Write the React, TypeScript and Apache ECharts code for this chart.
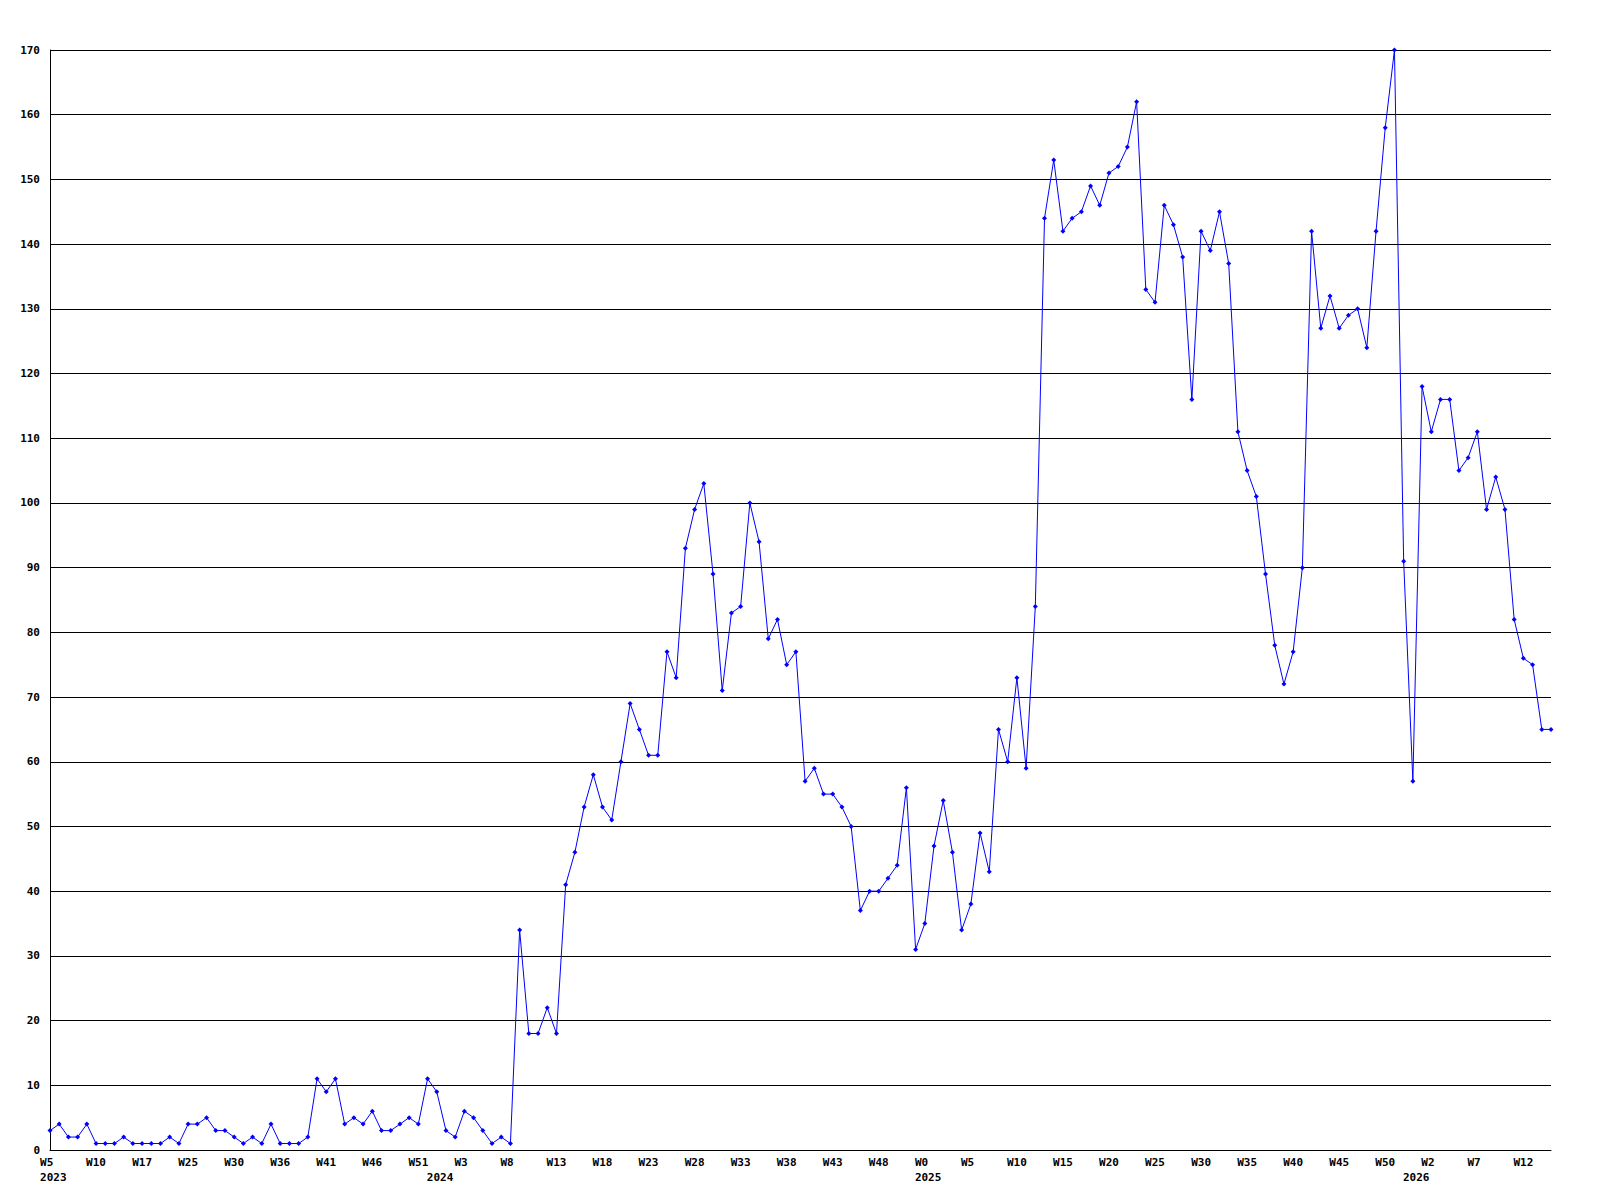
import React, { useEffect, useRef } from "react";
import * as echarts from "echarts";

// ISO-like week numbers present in the data, per year
const weeks2023 = [5, 6, 7, 8, 9, 10, 11, 13, 14, 16, 17, 19, 20, 22, 23, 25, 26, 27, 28, 29, 30, 31, 32, 34, 35, 36, 37, 38, 39, 40, 41, 42, 43, 44, 45, 46, 47, 48, 49, 50, 51, 52];
const weeks2024 = [0, 1, 2, 3, 4, 5, 6, 7, 8, 9, 10, 11, 12, 13, 14, 15, 16, 17, 18, 19, 20, 21, 22, 23, 24, 25, 26, 27, 28, 29, 30, 31, 32, 33, 34, 35, 36, 37, 38, 39, 40, 41, 42, 43, 44, 45, 46, 47, 48, 49, 50, 51, 52];
const weeks2025 = [0, 1, 2, 3, 4, 5, 6, 7, 8, 9, 10, 11, 12, 13, 14, 15, 16, 17, 18, 19, 20, 21, 22, 23, 24, 25, 26, 27, 28, 29, 30, 31, 32, 33, 34, 35, 36, 37, 38, 39, 40, 41, 42, 43, 44, 45, 46, 47, 48, 49, 50, 51, 52];
const weeks2026 = [0, 1, 2, 3, 4, 5, 6, 7, 8, 9, 10, 11, 12, 13, 14, 15];

const values = [
  3, 4, 2, 2, 4, 1, 1, 1, 2, 1, 1, 1, 1, 2, 1, 4, 4, 5, 3, 3, 2, 1, 2, 1, 4, 1, 1, 1, 2, 11,
  9, 11, 4, 5, 4, 6, 3, 3, 4, 5, 4, 11, 9, 3, 2, 6, 5, 3, 1, 2, 1,
  34, 18, 18, 22, 18, 41, 46, 53, 58, 53,
  51, 60, 69, 65, 61, 61, 77, 73, 93, 99,
  103, 89, 71, 83, 84, 100, 94, 79, 82, 75,
  77, 57, 59, 55, 55, 53, 50, 37, 40, 40,
  42, 44, 56, 31, 35, 47, 54, 46, 34, 38,
  49, 43, 65, 60, 73, 59, 84, 144, 153, 142,
  144, 145, 149, 146, 151, 152, 155, 162, 133, 131,
  146, 143, 138, 116, 142, 139, 145, 137, 111, 105,
  101, 89, 78, 72, 77, 90, 142, 127, 132, 127,
  129, 130, 124, 142, 158, 170, 91, 57, 118, 111,
  116, 116, 105, 107, 111, 99, 104, 99, 82, 76,
  75, 65, 65,
];

const yMin = 0;
const yMax = 170;
const yStep = 10;
const labelEvery = 5;

const categories: { year: number; week: number }[] = [];
[[2023, weeks2023], [2024, weeks2024], [2025, weeks2025], [2026, weeks2026]].forEach(
  ([year, weeks]: any) => {
    (weeks as number[]).forEach((w) => categories.push({ year, week: w }));
  }
);
const catNames = categories.map((c) => `${c.year}-W${c.week}`);

function isYearStart(i: number) {
  return i === 0 || categories[i].year !== categories[i - 1].year;
}

// Labels in the original start a fixed distance left of the tick point;
// pad each (monospace) line with non-breaking spaces so a centred line
// starts at that same place (equivalent to 3 characters wide, centred).
const NB = "\u00A0";
function padLine(s: string) {
  if (!s) return s;
  const n = s.length;
  if (n < 3) return s + NB.repeat(3 - n);
  if (n > 3) return NB.repeat(n - 3) + s;
  return s;
}

const FONT = "'DejaVu Sans Mono', 'Liberation Mono', monospace";

export default function App() {
  const ref = useRef<HTMLDivElement>(null);
  useEffect(() => {
    if (!ref.current) return;
    const chart = echarts.init(ref.current, undefined, { renderer: "svg" });
    chart.setOption({
      animation: false,
      backgroundColor: "#ffffff",
      grid: { left: 50, right: 49, top: 50, bottom: 50, containLabel: false },
      xAxis: {
        type: "category",
        data: catNames,
        boundaryGap: false,
        axisLine: { show: true, lineStyle: { color: "#000", width: 1 } },
        axisTick: { show: false },
        splitLine: { show: false },
        axisLabel: {
          interval: (i: number) => i % labelEvery === 0 || isYearStart(i),
          formatter: (_v: string, i: number) => {
            const c = categories[i];
            const top = i % labelEvery === 0 ? padLine(`W${c.week}`) : "";
            return isYearStart(i) ? `${top}\n${padLine(String(c.year))}` : top;
          },
          color: "#000",
          fontFamily: FONT,
          fontWeight: "bold",
          fontSize: 11,
          lineHeight: 15,
          margin: 5,
        },
      },
      yAxis: {
        type: "value",
        min: yMin,
        max: yMax,
        interval: yStep,
        axisLine: { show: true, lineStyle: { color: "#000", width: 1 } },
        axisTick: { show: false },
        splitLine: { show: true, lineStyle: { color: "#000", width: 1, type: "solid" } },
        axisLabel: {
          color: "#000",
          fontFamily: FONT,
          fontWeight: "bold",
          fontSize: 11,
          margin: 10,
        },
      },
      series: [
        {
          type: "line",
          data: values,
          lineStyle: { color: "#0000ff", width: 1 },
          itemStyle: { color: "#0000ff" },
          symbol: "diamond",
          symbolSize: 5,
          showSymbol: true,
          showAllSymbol: true,
          clip: true,
        },
      ],
    });
    return () => chart.dispose();
  }, []);
  return (
    <div
      ref={ref}
      style={{ position: "absolute", left: 0, top: 0, width: 1600, height: 1200, background: "#fff" }}
    />
  );
}
